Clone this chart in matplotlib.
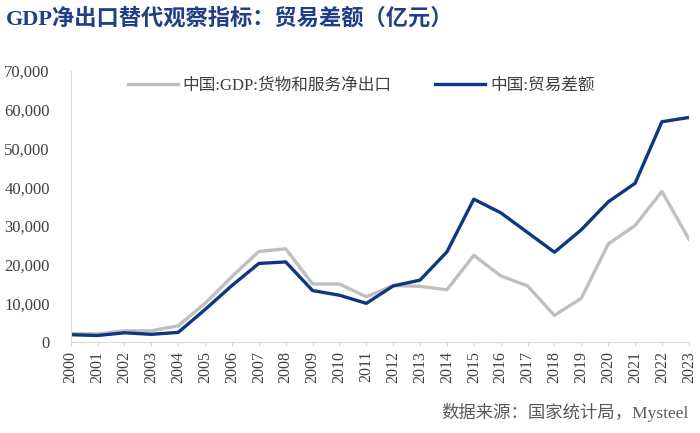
import numpy as np
import matplotlib.pyplot as plt
from matplotlib.ticker import FuncFormatter

# 数据（亿元）
years = list(range(2000, 2024))
gdp_net_exports = [2200, 2100, 2900, 2900, 4200, 10000, 16900, 23400, 24100, 15000,
                   15000, 11700, 14600, 14400, 13500, 22400, 17100, 14500, 6900, 11300,
                   25300, 30100, 38900, 26600]
trade_balance = [1900, 1700, 2400, 2000, 2500, 8400, 14600, 20300, 20700, 13300,
                 12100, 10000, 14500, 16000, 23300, 36900, 33400, 28300, 23200, 29000,
                 36200, 41000, 56900, 58000]
y_ticks = list(range(0, 70001, 10000))

serif = ['Liberation Serif', 'Noto Sans CJK SC']
plt.rcParams['font.family'] = serif

fig = plt.figure(figsize=(7, 4.33), dpi=100)
ax = fig.add_axes([0.101, 0.21, 0.883, 0.626])

ax.plot(years, gdp_net_exports, color='#bfbfbf', lw=2.4, label='中国:GDP:货物和服务净出口')
ax.plot(years, trade_balance, color='#0c3883', lw=2.4, label='中国:贸易差额')

ax.set_xlim(2000, 2023)
ax.set_ylim(0, 70000)
ax.set_yticks(y_ticks)
ax.yaxis.set_major_formatter(FuncFormatter(lambda v, p: f'{int(v):,}'))
ax.set_xticks(years)
ax.set_xticklabels([str(y) for y in years], rotation=90)
ax.tick_params(axis='both', labelsize=11.5, colors='#d9d9d9', labelcolor='#404040', length=3)
ax.tick_params(axis='y', labelsize=12, length=0, pad=15)

for s in ['top', 'right']:
    ax.spines[s].set_visible(False)
for s in ['left', 'bottom']:
    ax.spines[s].set_color('#d9d9d9')

leg = ax.legend(loc='upper center', bbox_to_anchor=(0.47, 1.03), ncol=2, frameon=False,
                handlelength=3.0, columnspacing=2.6, handletextpad=0.3,
                prop={'family': serif, 'size': 12})
for t in leg.get_texts():
    t.set_color('#404040')

fig.text(0.008, 0.957, 'GDP净出口替代观察指标：贸易差额（亿元）', fontsize=16, fontweight='bold',
         color='#1f3f86', family=serif, va='center')
fig.text(0.984, 0.047, '数据来源：国家统计局，Mysteel', fontsize=12.5, color='#595959',
         family=serif, ha='right', va='center')

fig.savefig('out.png', dpi=100)
